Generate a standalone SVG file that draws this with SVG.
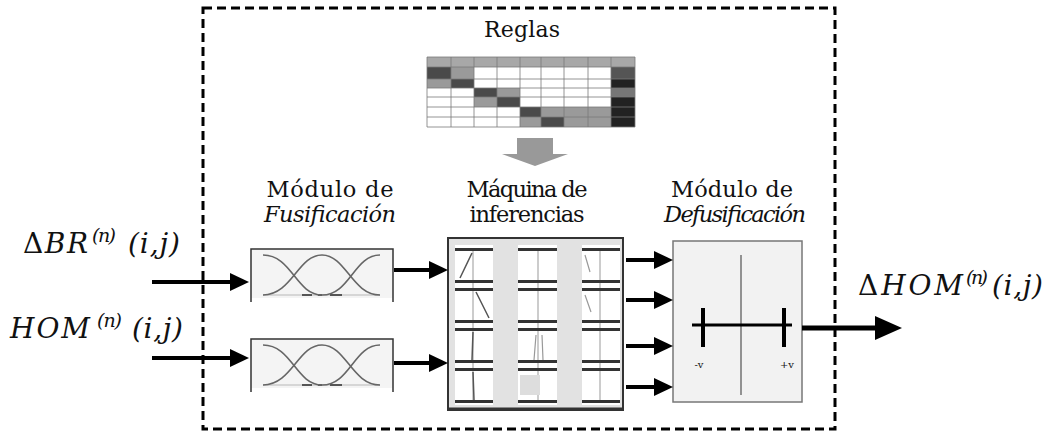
<svg xmlns="http://www.w3.org/2000/svg" width="1050" height="432" viewBox="0 0 1050 432">
<style>
.t{font-family:"DejaVu Serif","Liberation Serif",serif;fill:#111}
.lbl{font-size:22.5px;text-anchor:middle}
.it{font-style:italic}
.big{font-size:28px}
.sup{font-size:19px;font-style:italic}
.arr{stroke:#000;stroke-width:4;fill:none}
.mf{fill:none;stroke:#666;stroke-width:1.6}
.cell{fill:#fff}
.bar{stroke:#333;stroke-width:3}
.vl{stroke:#999;stroke-width:1}
.grid{stroke:#7a7a7a;stroke-width:0.8;fill:none}
</style>
<defs>
<marker id="ah" markerUnits="userSpaceOnUse" markerWidth="19" markerHeight="18" refX="0" refY="9" orient="auto"><path d="M0,0 L19,9 L0,18 z" fill="#000"/></marker>
<marker id="ahb" markerUnits="userSpaceOnUse" markerWidth="27" markerHeight="24" refX="0" refY="12" orient="auto"><path d="M0,0 L27,12 L0,24 z" fill="#000"/></marker>
</defs>
<rect width="1050" height="432" fill="#fff"/>

<g id="frame">
<rect x="203" y="8" width="632" height="421" fill="none" stroke="#000" stroke-width="3" stroke-dasharray="9,5"/>
</g>

<g id="reglas">
<text class="t" x="522" y="37" font-size="22" text-anchor="middle" textLength="76" lengthAdjust="spacing">Reglas</text>
<g id="tabla">
<rect x="427" y="57" width="208" height="10" fill="#a8a8a8"/>
<rect x="427" y="67" width="208" height="60" fill="#fff"/>
<rect x="427" y="67" width="24" height="12" fill="#4a4a4a"/>
<rect x="451" y="67" width="23" height="12" fill="#9a9a9a"/>
<rect x="611" y="67" width="24" height="12" fill="#555"/>
<rect x="427" y="79" width="24" height="9" fill="#9a9a9a"/>
<rect x="451" y="79" width="23" height="9" fill="#4a4a4a"/>
<rect x="611" y="79" width="24" height="9" fill="#222"/>
<rect x="474" y="88" width="23" height="9" fill="#4a4a4a"/>
<rect x="497" y="88" width="23" height="9" fill="#9a9a9a"/>
<rect x="611" y="88" width="24" height="9" fill="#777"/>
<rect x="474" y="97" width="23" height="10" fill="#9a9a9a"/>
<rect x="497" y="97" width="23" height="10" fill="#4a4a4a"/>
<rect x="611" y="97" width="24" height="10" fill="#222"/>
<rect x="520" y="107" width="21" height="10" fill="#4a4a4a"/>
<rect x="541" y="107" width="70" height="10" fill="#9a9a9a"/>
<rect x="611" y="107" width="24" height="10" fill="#222"/>
<rect x="520" y="117" width="21" height="10" fill="#9a9a9a"/>
<rect x="541" y="117" width="23" height="10" fill="#4a4a4a"/>
<rect x="564" y="117" width="47" height="10" fill="#9a9a9a"/>
<rect x="611" y="117" width="24" height="10" fill="#222"/>
<path class="grid" d="M427,57H635V127H427Z M427,67H635 M427,79H635 M427,88H635 M427,97H635 M427,107H635 M427,117H635 M451,57V127 M474,57V127 M497,57V127 M520,57V127 M541,57V127 M564,57V127 M588,57V127 M611,57V127"/>
</g>
<polygon points="517,138 553,138 553,154 568,154 535,166 502,154 517,154" fill="#999"/>
</g>

<g id="fusificacion">
<text class="t lbl" x="330" y="197" textLength="127" lengthAdjust="spacing">Módulo de</text>
<text class="t lbl it" x="330" y="222" textLength="132" lengthAdjust="spacing">Fusificación</text>
<g id="fus1">
<rect x="251" y="249" width="142" height="49" fill="#f4f4f4"/>
<path d="M251,302V249H393V302" fill="none" stroke="#333" stroke-width="1.5"/>
<path d="M263,295H380" stroke="#ccc" stroke-width="1.5"/>
<path d="M302,295H312 M318,295H322 M330,295H342" stroke="#555" stroke-width="2"/>
<path class="mf" d="M263,255 C292,255 296,295 322,295"/>
<path class="mf" d="M263,295 C292,295 298,255 322,255 C346,255 352,295 380,295"/>
<path class="mf" d="M322,295 C350,295 354,255 380,255"/>
</g>
<g id="fus2">
<rect x="251" y="339" width="142" height="49" fill="#f4f4f4"/>
<path d="M251,392V339H393V392" fill="none" stroke="#333" stroke-width="1.5"/>
<path d="M263,385H380" stroke="#ccc" stroke-width="1.5"/>
<path d="M302,385H312 M318,385H322 M330,385H342" stroke="#555" stroke-width="2"/>
<path class="mf" d="M263,345 C292,345 296,385 322,385"/>
<path class="mf" d="M263,385 C292,385 298,345 322,345 C346,345 352,385 380,385"/>
<path class="mf" d="M322,385 C350,385 354,345 380,345"/>
</g>
</g>

<g id="inferencias">
<text class="t lbl" x="527" y="197" textLength="121" lengthAdjust="spacing">Máquina de</text>
<text class="t lbl" x="527" y="222" textLength="115" lengthAdjust="spacing">inferencias</text>
<rect x="448" y="238" width="175" height="172" fill="#e2e2e2" stroke="#333" stroke-width="2"/>
<path d="M448,409H623" stroke="#333" stroke-width="3"/>
<rect class="cell" x="455" y="245" width="38" height="160"/>
<rect class="cell" x="518" y="245" width="39" height="160"/>
<rect class="cell" x="582" y="245" width="38" height="160"/>
<path class="vl" d="M473,248V402 M538,248V402 M600,248V402"/>
<path class="bar" d="M455,249.5H493 M518,249.5H557 M582,249.5H620 M455,281.5H493 M518,281.5H557 M582,281.5H620 M455,289.5H493 M518,289.5H557 M582,289.5H620 M455,321.5H493 M518,321.5H557 M582,321.5H620 M455,329.5H493 M518,329.5H557 M582,329.5H620 M455,361.5H493 M518,361.5H557 M582,361.5H620 M455,369.5H493 M518,369.5H557 M582,369.5H620 M455,401.5H493 M518,401.5H557 M582,401.5H620"/>
<path d="M460,278 L472,253 M476,292 L489,318 M473,332 L472,360 M473,372 L474,400" stroke="#555" stroke-width="1.5" fill="none"/>
<path d="M585,255 L590,272 M585,295 L591,312 M536,335 L534,360 M542,335 L543,360" stroke="#999" stroke-width="1.2" fill="none"/>
<rect x="520" y="375" width="20" height="20" fill="#ddd"/>
</g>

<g id="defusificacion">
<text class="t lbl" x="732" y="197" textLength="122" lengthAdjust="spacing">Módulo de</text>
<text class="t lbl it" x="735" y="222" textLength="142" lengthAdjust="spacing">Defusificación</text>
<rect x="673" y="241" width="129" height="161" fill="#f2f2f2" stroke="#777" stroke-width="1.5"/>
<path d="M741,255V395" stroke="#333" stroke-width="1"/>
<path d="M692,325H792" stroke="#000" stroke-width="3"/>
<path d="M703,308V347 M784,308V347" stroke="#000" stroke-width="4"/>
<text class="t" x="699" y="368" font-size="10" text-anchor="middle">-v</text>
<text class="t" x="787" y="368" font-size="10" text-anchor="middle">+v</text>
</g>

<g id="entradas">
<text class="t big" x="23" y="253" textLength="65" lengthAdjust="spacing">Δ<tspan class="it">BR</tspan></text>
<text class="t sup" x="92" y="242" textLength="24" lengthAdjust="spacing">(n)</text>
<text class="t big it" x="128" y="253" textLength="52" lengthAdjust="spacing">(i,j)</text>
<text class="t big it" x="10" y="338" textLength="80" lengthAdjust="spacing">HOM</text>
<text class="t sup" x="97" y="327" textLength="25" lengthAdjust="spacing">(n)</text>
<text class="t big it" x="132" y="338" textLength="51" lengthAdjust="spacing">(i,j)</text>
</g>

<g id="salida">
<text class="t big" x="858" y="295" textLength="105" lengthAdjust="spacing">Δ<tspan class="it">HOM</tspan></text>
<text class="t sup" x="966" y="284" textLength="22" lengthAdjust="spacing">(n)</text>
<text class="t big it" x="992" y="295" textLength="51" lengthAdjust="spacing">(i,j)</text>
</g>

<g id="connectors">
<path class="arr" d="M152,282H230" marker-end="url(#ah)"/>
<path class="arr" d="M152,358H230" marker-end="url(#ah)"/>
<path class="arr" d="M394,270H429" marker-end="url(#ah)"/>
<path class="arr" d="M394,363H429" marker-end="url(#ah)"/>
<path class="arr" d="M626,260H654" marker-end="url(#ah)"/>
<path class="arr" d="M626,300H654" marker-end="url(#ah)"/>
<path class="arr" d="M626,346H654" marker-end="url(#ah)"/>
<path class="arr" d="M626,387H654" marker-end="url(#ah)"/>
<path d="M802,328H875" stroke="#000" stroke-width="5" fill="none" marker-end="url(#ahb)"/>
</g>
</svg>
